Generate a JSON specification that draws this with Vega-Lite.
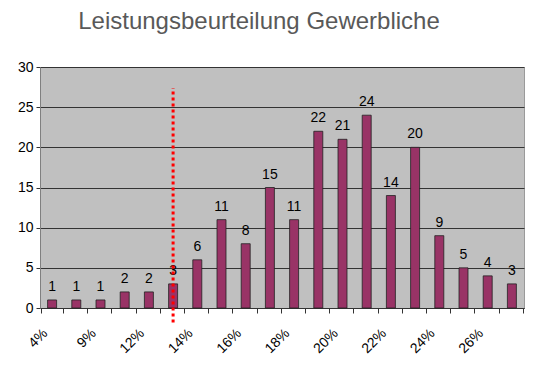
{
  "$schema": "https://vega.github.io/schema/vega-lite/v6.json",
  "autosize": "none",
  "width": 484,
  "height": 241,
  "padding": {"left": 40, "top": 67, "right": 10, "bottom": 59},
  "background": "white",
  "title": {
    "text": "Leistungsbeurteilung Gewerbliche",
    "font": "Liberation Sans",
    "fontSize": 24,
    "fontWeight": "normal",
    "color": "#595959",
    "anchor": "middle",
    "dx": -23,
    "offset": 26
  },
  "config": {
    "view": {"fill": "#c0c0c0", "stroke": "#9a9a9a"},
    "font": "Liberation Sans"
  },
  "datasets": {
    "bars": [
      {"klasse": "4%", "anzahl": 1},
      {"klasse": "8%", "anzahl": 1},
      {"klasse": "9%", "anzahl": 1},
      {"klasse": "11%", "anzahl": 2},
      {"klasse": "12%", "anzahl": 2},
      {"klasse": "13%", "anzahl": 3},
      {"klasse": "14%", "anzahl": 6},
      {"klasse": "15%", "anzahl": 11},
      {"klasse": "16%", "anzahl": 8},
      {"klasse": "17%", "anzahl": 15},
      {"klasse": "18%", "anzahl": 11},
      {"klasse": "19%", "anzahl": 22},
      {"klasse": "20%", "anzahl": 21},
      {"klasse": "21%", "anzahl": 24},
      {"klasse": "22%", "anzahl": 14},
      {"klasse": "23%", "anzahl": 20},
      {"klasse": "24%", "anzahl": 9},
      {"klasse": "25%", "anzahl": 5},
      {"klasse": "26%", "anzahl": 4},
      {"klasse": "27%", "anzahl": 3}
    ],
    "marker": [
      {"klasse": "13%", "von": -1.8, "bis": 27.4}
    ]
  },
  "layer": [
    {
      "data": {"name": "bars"},
      "mark": {"type": "bar", "size": 9, "color": "#993366", "stroke": "#222222", "strokeWidth": 0.8},
      "encoding": {
        "x": {
          "field": "klasse",
          "type": "nominal",
          "sort": null,
          "title": null,
          "axis": {
            "labelAngle": -45,
            "labelFontSize": 14,
            "labelColor": "black",
            "labelPadding": 13,
            "labelOffset": -12,
            "labelExpr": "indexof(['4%','9%','12%','14%','16%','18%','20%','22%','24%','26%'], datum.value) >= 0 ? datum.value : ''",
            "tickBand": "extent",
            "tickSize": 5,
            "tickColor": "#333333",
            "domainColor": "#333333",
            "grid": false
          }
        },
        "y": {
          "field": "anzahl",
          "type": "quantitative",
          "title": null,
          "scale": {"domain": [0, 30], "nice": false},
          "axis": {
            "values": [0, 5, 10, 15, 20, 25, 30],
            "labelFontSize": 14,
            "labelColor": "black",
            "labelPadding": 3,
            "tickSize": 4,
            "tickColor": "#333333",
            "domainColor": "#808080",
            "gridColor": "#333333",
            "gridOpacity": 1,
            "gridWidth": 1
          }
        }
      }
    },
    {
      "data": {"name": "bars"},
      "mark": {"type": "text", "baseline": "bottom", "dy": -6, "fontSize": 14, "color": "black"},
      "encoding": {
        "x": {"field": "klasse", "type": "nominal", "sort": null},
        "y": {"field": "anzahl", "type": "quantitative"},
        "text": {"field": "anzahl", "type": "quantitative"}
      }
    },
    {
      "data": {"name": "marker"},
      "mark": {"type": "rule", "color": "#ff0000", "strokeWidth": 3, "strokeDash": [3, 3]},
      "encoding": {
        "x": {"field": "klasse", "type": "nominal", "sort": null},
        "y": {"field": "von", "type": "quantitative"},
        "y2": {"field": "bis"}
      }
    }
  ]
}
